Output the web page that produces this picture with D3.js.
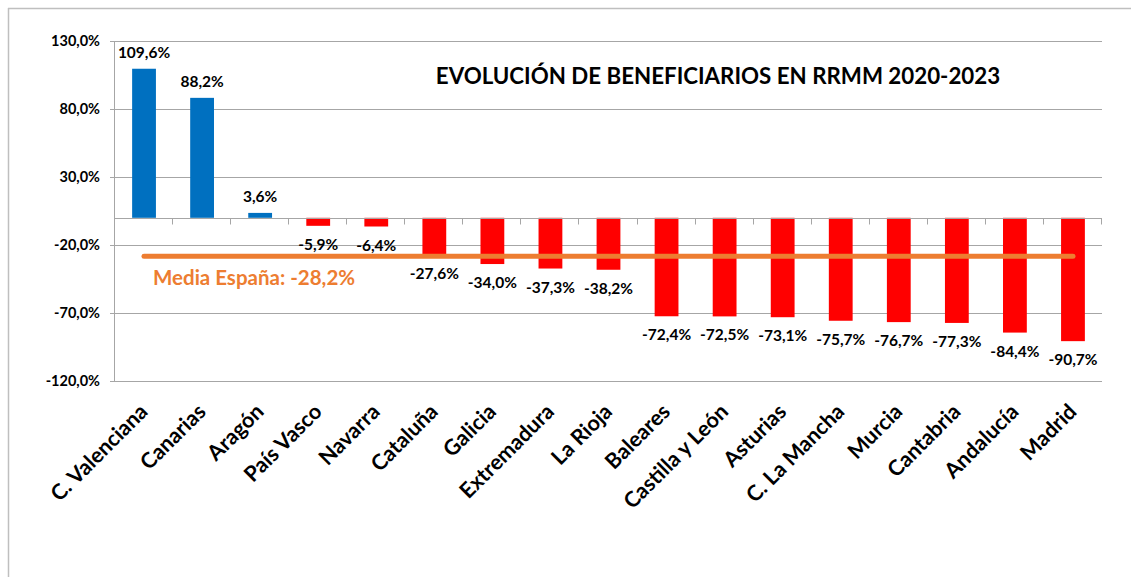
<!DOCTYPE html>
<html>
<head>
<meta charset="utf-8">
<script src="https://cdn.jsdelivr.net/npm/d3@7"></script>
<style>
  body { margin: 0; background: #fff; }
  text { font-family: Lato, "Open Sans", sans-serif; font-weight: bold; }
</style>
</head>
<body>
<svg id="chart" width="1131" height="577"></svg>
<script>
// datos
var regiones = ["C. Valenciana", "Canarias", "Aragón", "País Vasco", "Navarra", "Cataluña",
  "Galicia", "Extremadura", "La Rioja", "Baleares", "Castilla y León", "Asturias",
  "C. La Mancha", "Murcia", "Cantabria", "Andalucía", "Madrid"];
var variacion = [109.6, 88.2, 3.6, -5.9, -6.4, -27.6, -34.0, -37.3, -38.2, -72.4, -72.5,
  -73.1, -75.7, -76.7, -77.3, -84.4, -90.7];
var mediaEspana = -28.2;
var yTicks = [130, 80, 30, -20, -70, -120];
var titulo = "EVOLUCIÓN DE BENEFICIARIOS EN RRMM 2020-2023";

var svg = d3.select("#chart");
var fmt = function(v) { return v.toFixed(1).replace(".", ",") + "%"; };

var mLeft = 115, mRight = 1102, mTop = 41, mBottom = 381;

var x = d3.scaleBand().domain(regiones).range([mLeft, mRight]).paddingInner(0.59).paddingOuter(0.295);
var band = d3.scaleBand().domain(regiones).range([mLeft, mRight]);
var y = d3.scaleLinear().domain([-120, 130]).range([mBottom, mTop]);
var cx = function(r) { return x(r) + x.bandwidth() / 2; };

// marco
svg.append("line").attr("x1", 8).attr("x2", 1131).attr("y1", 8.5).attr("y2", 8.5)
  .attr("stroke", "#bfbfbf").attr("stroke-width", 1.5);
svg.append("line").attr("x1", 8.5).attr("x2", 8.5).attr("y1", 8).attr("y2", 577)
  .attr("stroke", "#bfbfbf").attr("stroke-width", 1.5);

// rejilla
svg.append("g").selectAll("line").data(yTicks).enter().append("line")
  .attr("x1", mLeft - 5).attr("x2", mRight)
  .attr("y1", function(d) { return Math.round(y(d)) + 0.5; })
  .attr("y2", function(d) { return Math.round(y(d)) + 0.5; })
  .attr("stroke", "#a6a6a6").attr("stroke-width", 1);

svg.append("line").attr("x1", mLeft - 0.5).attr("x2", mLeft - 0.5).attr("y1", mTop).attr("y2", mBottom)
  .attr("stroke", "#a6a6a6");

svg.append("g").selectAll("text").data(yTicks).enter().append("text")
  .attr("x", 100).attr("y", function(d) { return y(d) + 5; })
  .attr("text-anchor", "end").attr("font-size", "14.5px").attr("fill", "#000")
  .text(fmt);

// barras
svg.append("g").selectAll("rect").data(variacion).enter().append("rect")
  .attr("x", function(d, i) { return x(regiones[i]); })
  .attr("width", x.bandwidth())
  .attr("y", function(d) { return y(Math.max(0, d)); })
  .attr("height", function(d) { return Math.abs(y(d) - y(0)); })
  .attr("fill", function(d) { return d >= 0 ? "#0070c0" : "#ff0000"; });

// eje cero
var y0 = Math.round(y(0)) + 0.5;
svg.append("line").attr("x1", mLeft).attr("x2", mRight).attr("y1", y0).attr("y2", y0)
  .attr("stroke", "#a6a6a6");
var bordes = regiones.map(function(r) { return band(r) + band.bandwidth(); });
svg.append("g").selectAll("line").data(bordes).enter().append("line")
  .attr("x1", function(d) { return Math.round(d) - 0.5; })
  .attr("x2", function(d) { return Math.round(d) - 0.5; })
  .attr("y1", y0).attr("y2", y0 + 6).attr("stroke", "#a6a6a6");

// etiquetas de datos
svg.append("g").selectAll("text").data(variacion).enter().append("text")
  .attr("x", function(d, i) { return cx(regiones[i]); })
  .attr("y", function(d) { return d >= 0 ? y(d) - 11 : y(d) + 24; })
  .attr("text-anchor", "middle").attr("font-size", "15.5px").attr("fill", "#000")
  .text(fmt);

// media España
svg.append("line")
  .attr("x1", cx(regiones[0])).attr("x2", cx(regiones[regiones.length - 1]))
  .attr("y1", y(mediaEspana)).attr("y2", y(mediaEspana))
  .attr("stroke", "#ed7d31").attr("stroke-width", 5).attr("stroke-linecap", "round");
svg.append("text").attr("x", 153).attr("y", 285)
  .attr("font-size", "20.5px").attr("fill", "#ed7d31")
  .text("Media España: " + fmt(mediaEspana));

// etiquetas de categorías
svg.append("g").selectAll("text").data(regiones).enter().append("text")
  .attr("transform", function(d) { return "translate(" + (cx(d) + 5) + ",413) rotate(-45)"; })
  .attr("text-anchor", "end").attr("font-size", "21.5px").attr("fill", "#000")
  .text(function(d) { return d; });

// título
svg.append("text").attr("x", 718).attr("y", 84).attr("text-anchor", "middle")
  .attr("font-size", "22.3px").attr("fill", "#000").text(titulo);
</script>
</body>
</html>
